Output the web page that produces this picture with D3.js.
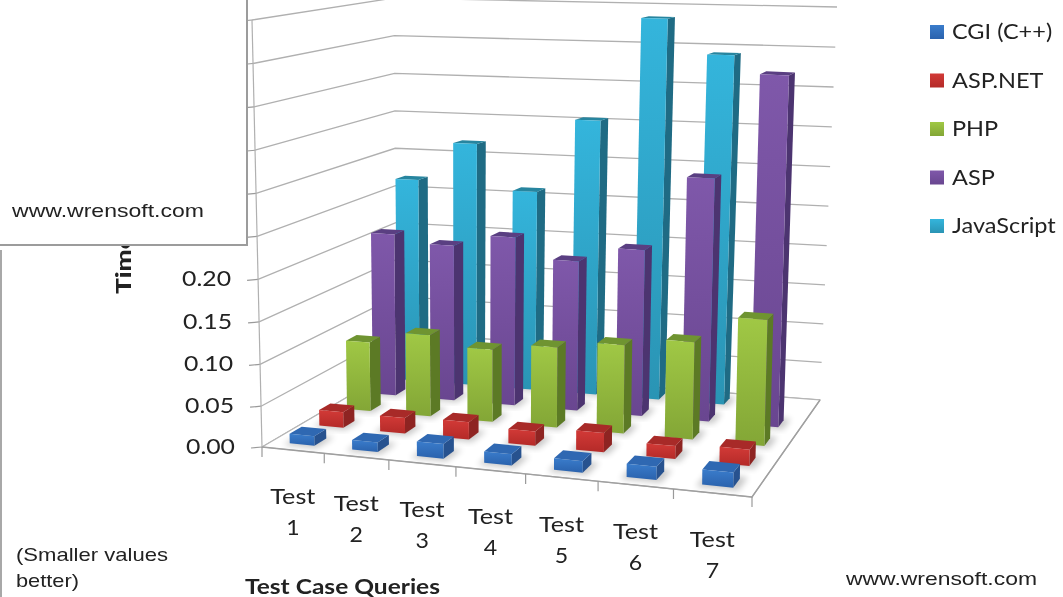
<!DOCTYPE html>
<html>
<head>
<meta charset="utf-8">
<script src="https://cdn.jsdelivr.net/npm/d3@7"></script>
<style>
  html, body { margin: 0; padding: 0; background: #fff; overflow: hidden; }
  svg { display: block; filter: blur(0.5px); }
  text { fill: #222; }
</style>
</head>
<body>
<svg id="chart" width="1063" height="597"></svg>
<script>
// Chart data
const tests = ['1', '2', '3', '4', '5', '6', '7'];
const seriesNames = ['CGI (C++)', 'ASP.NET', 'PHP', 'ASP', 'JavaScript'];
const cgi = [0.012, 0.012, 0.018, 0.014, 0.014, 0.016, 0.018];
const aspNet = [0.02, 0.02, 0.022, 0.018, 0.024, 0.016, 0.02];
const php = [0.088, 0.103, 0.091, 0.1, 0.109, 0.119, 0.152];
const asp = [0.209, 0.199, 0.214, 0.189, 0.208, 0.3, 0.428];
const javaScript = [0.267, 0.317, 0.259, 0.353, 0.484, 0.441, null];
const seriesValues = [cgi, aspNet, php, asp, javaScript];
const valueTicks = [0, 0.05, 0.1, 0.15, 0.2, 0.25, 0.3, 0.35, 0.4, 0.45, 0.5];
const labelledTicks = [0, 0.05, 0.1, 0.15, 0.2];

// front face top, front face bottom, side, top
const palette = [
  ['#3a7ccb', '#2a62ad', '#27528f', '#2f68b2'],
  ['#d23a37', '#b42a28', '#8e2422', '#a82a28'],
  ['#a0c845', '#83a636', '#5c7a25', '#6f9431'],
  ['#7f58aa', '#694690', '#4c3470', '#5a3f82'],
  ['#34b5dc', '#2a94b4', '#1f6b84', '#27859f']
];

const svg = d3.select('#chart');

// Corners of the floor on screen: front left, front right, back right, back left
const floorQuad = [[262, 447], [752, 497], [820, 400], [397, 368]];
// The same corners at the top of the value axis
const topQuad = [[252, 20], [758, 44], [837, 7], [394, -2]];

// Homography from unit square (u right, v back) to the floor
const floorMap = (([p0, p1, p2, p3]) => {
  const dx1 = p1[0] - p2[0], dx2 = p3[0] - p2[0], sx = p0[0] - p1[0] + p2[0] - p3[0];
  const dy1 = p1[1] - p2[1], dy2 = p3[1] - p2[1], sy = p0[1] - p1[1] + p2[1] - p3[1];
  const den = dx1 * dy2 - dx2 * dy1;
  const g = (sx * dy2 - dx2 * sy) / den;
  const h = (dx1 * sy - sx * dy1) / den;
  const a = p1[0] - p0[0] + g * p1[0], b = p3[0] - p0[0] + h * p3[0];
  const d = p1[1] - p0[1] + g * p1[1], e = p3[1] - p0[1] + h * p3[1];
  return (u, v) => {
    const w = g * u + h * v + 1;
    return [(a * u + b * v + p0[0]) / w, (d * u + e * v + p0[1]) / w];
  };
})(floorQuad);

// Rise of a full-height column, blended between the four corners
const rise = d3.range(4).map(i => [topQuad[i][0] - floorQuad[i][0], topQuad[i][1] - floorQuad[i][1]]);
const riseAt = (u, v, c) =>
  (rise[0][c] * (1 - u) + rise[1][c] * u) * (1 - v) + (rise[3][c] * (1 - u) + rise[2][c] * u) * v;

const project = (u, v, k) => {
  const f = floorMap(u, v);
  return [f[0] + riseAt(u, v, 0) * k, f[1] + riseAt(u, v, 1) * k];
};

const xScale = d3.scaleBand().domain(tests).range([0, 1]).paddingInner(0.6).paddingOuter(0.3);
const zScale = d3.scaleBand().domain(seriesNames).range([0, 1]).paddingInner(0.6).paddingOuter(0.3);
const yScale = d3.scalePow().exponent(1.02).domain([0, 0.5]).range([0, 1]);
const polyLine = d3.line();
const face = pts => polyLine(pts) + 'Z';

// Gradients and blur
const defs = svg.append('defs');
palette.forEach((c, i) => {
  const g = defs.append('linearGradient').attr('id', 'front' + i)
    .attr('x1', 0).attr('y1', 0).attr('x2', 0).attr('y2', 1);
  g.append('stop').attr('offset', 0).attr('stop-color', c[0]);
  g.append('stop').attr('offset', 1).attr('stop-color', c[1]);
});
defs.append('filter').attr('id', 'shadow').attr('x', '-30%').attr('y', '-30%')
  .attr('width', '160%').attr('height', '160%')
  .append('feGaussianBlur').attr('stdDeviation', 3);

// Walls
const grid = svg.append('g');
valueTicks.forEach(t => {
  const k = yScale(t);
  grid.append('path')
    .attr('d', polyLine([project(0, 0, k), project(0, 1, k), project(1, 1, k)]))
    .attr('fill', 'none').attr('stroke', '#b0b0b0').attr('stroke-width', 1.3);
  const p = project(0, 0, k);
  grid.append('line').attr('x1', p[0] - 11).attr('x2', p[0])
    .attr('y1', p[1] + 1).attr('y2', p[1])
    .attr('stroke', '#9a9a9a').attr('stroke-width', 1.2);
});
grid.append('path')
  .attr('d', polyLine([project(0, 0, 0), project(0, 0, 1)]))
  .attr('stroke', '#b0b0b0').attr('stroke-width', 1.2).attr('fill', 'none');

// Floor
svg.append('path')
  .attr('d', face([project(0, 0, 0), project(1, 0, 0), project(1, 1, 0), project(0, 1, 0)]))
  .attr('fill', '#fff').attr('stroke', '#b5b5b5').attr('stroke-width', 1.2);
svg.append('path')
  .attr('d', polyLine([project(0, 0, 0), project(1, 0, 0), project(1, 1, 0)]))
  .attr('fill', 'none').attr('stroke', '#a0a0a0').attr('stroke-width', 1.4);
d3.range(tests.length + 1).forEach(i => {
  const p = project(i / tests.length, 0, 0);
  svg.append('line').attr('x1', p[0]).attr('x2', p[0])
    .attr('y1', p[1]).attr('y2', p[1] + 10)
    .attr('stroke', '#9a9a9a').attr('stroke-width', 1.2);
});

// Bars, back row first
const barsLayer = svg.append('g');
d3.range(seriesNames.length - 1, -1, -1).forEach(s => {
  const z0 = zScale(seriesNames[s]), z1 = z0 + zScale.bandwidth();
  tests.forEach((t, i) => {
    const value = seriesValues[s][i];
    if (value === null) return;
    const x0 = xScale(t), x1 = x0 + xScale.bandwidth();
    const k = yScale(value);
    barsLayer.append('path')
      .attr('d', face([project(x0 - 0.008, z0 - 0.02, 0), project(x1 + 0.012, z0 - 0.02, 0),
                       project(x1 + 0.012, z1 + 0.02, 0), project(x0 - 0.008, z1 + 0.02, 0)]))
      .attr('fill', '#000').attr('opacity', 0.22).attr('filter', 'url(#shadow)');
    barsLayer.append('path')
      .attr('d', face([project(x1, z0, 0), project(x1, z1, 0), project(x1, z1, k), project(x1, z0, k)]))
      .attr('fill', palette[s][2]);
    barsLayer.append('path')
      .attr('d', face([project(x0, z0, k), project(x1, z0, k), project(x1, z1, k), project(x0, z1, k)]))
      .attr('fill', palette[s][3]);
    barsLayer.append('path')
      .attr('d', face([project(x0, z0, 0), project(x1, z0, 0), project(x1, z0, k), project(x0, z0, k)]))
      .attr('fill', `url(#front${s})`);
  });
});

// Text stretched sideways, the reference is a widened screenshot
const labelFont = 'Lato, "Noto Sans", sans-serif';
const wideText = (x, y, txt, widen, anchor) => svg.append('text')
  .attr('transform', `translate(${x},${y}) scale(${widen},1)`)
  .attr('text-anchor', anchor || 'start')
  .attr('font-family', labelFont).attr('font-size', 21).text(txt);

// Category labels
tests.forEach(t => {
  const p = project(xScale(t) + xScale.bandwidth() / 2, 0, 0);
  wideText(p[0], p[1] + 54, 'Test', 1.2, 'middle');
  wideText(p[0], p[1] + 85, t, 1.1, 'middle');
});

// Axis titles
svg.append('text').attr('transform', 'translate(131,294) rotate(-90) scale(1.25,1)')
  .attr('font-family', labelFont).attr('font-size', 21).attr('font-weight', 900).text('Time');
svg.append('text').attr('x', 245).attr('y', 594)
  .attr('font-family', labelFont).attr('font-size', 21).attr('font-weight', 700)
  .attr('textLength', 195).attr('lengthAdjust', 'spacingAndGlyphs').text('Test Case Queries');

// Value labels
labelledTicks.forEach(t => {
  const p = project(0, 0, yScale(t));
  svg.append('text').attr('x', p[0] - 27).attr('y', p[1] + 7)
    .attr('text-anchor', 'end').attr('font-family', labelFont).attr('font-size', 22)
    .attr('textLength', 49).attr('lengthAdjust', 'spacingAndGlyphs')
    .text(d3.format('.2f')(t));
});

// Legend
const legendRow = d3.scalePoint().domain(seriesNames).range([32, 226]);
seriesNames.forEach((name, s) => {
  const y = legendRow(name);
  svg.append('rect').attr('x', 930).attr('y', y - 7).attr('width', 14).attr('height', 14)
    .attr('fill', `url(#front${s})`);
  wideText(952, y + 7, name, 1.12);
});

// Overlaid note box and frame
svg.append('rect').attr('x', -10).attr('y', -10).attr('width', 257).attr('height', 255)
  .attr('fill', '#fff').attr('stroke', '#9c9c9c').attr('stroke-width', 2);
svg.append('line').attr('x1', 1).attr('x2', 1).attr('y1', 250).attr('y2', 597)
  .attr('stroke', '#a8a8a8').attr('stroke-width', 2);

const noteFont = '"Liberation Sans", Arial, sans-serif';
const note = (x, y, txt, len) => svg.append('text').attr('x', x).attr('y', y)
  .attr('font-family', noteFont).attr('font-size', 19)
  .attr('textLength', len).attr('lengthAdjust', 'spacingAndGlyphs').text(txt);
note(12, 217, 'www.wrensoft.com', 192);
note(846, 585, 'www.wrensoft.com', 191);
note(16, 561, '(Smaller values', 152);
note(16, 587, 'better)', 63);
</script>
</body>
</html>
